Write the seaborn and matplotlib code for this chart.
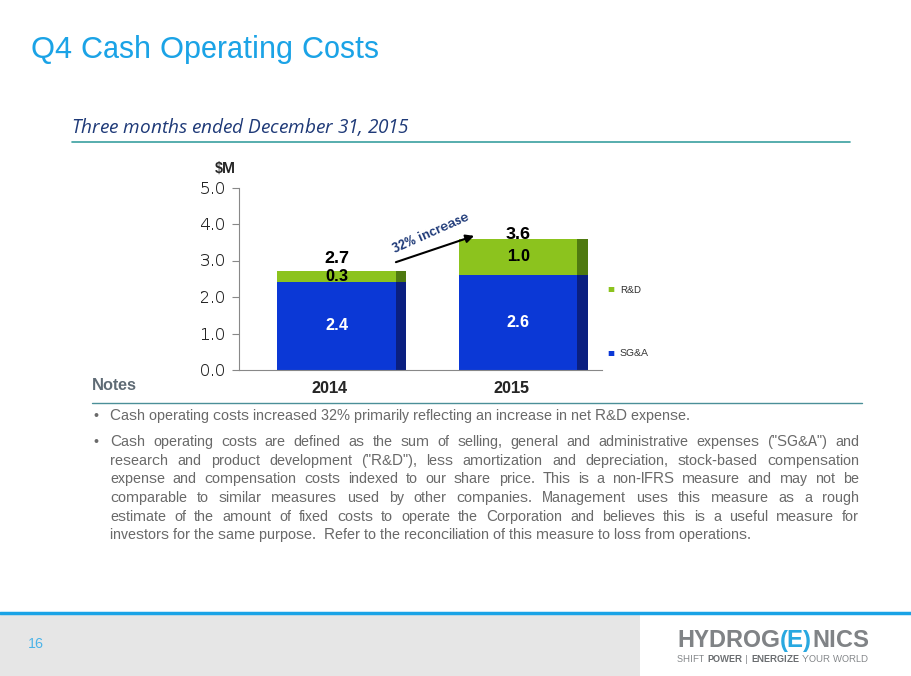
import matplotlib
matplotlib.use('Agg')
import matplotlib.pyplot as plt
import seaborn as sns
import pandas as pd

# chart data
years = ['2014', '2015']
sga = [2.4, 2.6]
rnd = [0.3, 1.0]
totals = [2.7, 3.6]
total_label_dy = [0.36, 0.1]

yticks = [0.0, 1.0, 2.0, 3.0, 4.0, 5.0]

note1 = "Cash operating costs increased 32% primarily reflecting an increase in net R&D expense."
note2_lines = [
    'Cash operating costs are defined as the sum of selling, general and administrative expenses ("SG&A") and',
    'research and product development ("R&D"), less amortization and depreciation, stock-based compensation',
    'expense and compensation costs indexed to our share price. This is a non-IFRS measure and may not be',
    'comparable to similar measures used by other companies. Management uses this measure as a rough',
    'estimate of the amount of fixed costs to operate the Corporation and believes this is a useful measure for',
    'investors for the same purpose.  Refer to the reconciliation of this measure to loss from operations.',
]

BLUE = '#0b38d6'
BLUE_SIDE = '#0a1f80'
GREEN = '#8cc31e'
GREEN_SIDE = '#4f7a10'
NAVY = '#1f3a78'
GRAY = '#6a6a6a'

sns.set_style('white')
plt.rcParams['font.family'] = ['Liberation Sans', 'DejaVu Sans']
plt.rcParams['text.hinting'] = 'native'
plt.rcParams['text.hinting_factor'] = 1

W, H = 911, 676
fig = plt.figure(figsize=(W / 100, H / 100), dpi=100)


def px(x, y):
    return x / W, 1 - y / H


# ---- header
fig.text(*px(31, 50), 'Q4 Cash Operating Costs', color='#1ba3e6', fontsize=22.2,
         ha='left', va='center')
fig.text(*px(72, 128), 'Three months ended December 31, 2015', color=NAVY, fontsize=13.35,
         style='italic', family=['Open Sans', 'DejaVu Sans'], ha='left', va='center')
fig.add_artist(plt.Line2D([72 / W, 850 / W], [1 - 142 / H] * 2, color='#3a9fa0', lw=1.2))

# ---- chart
ax = fig.add_axes([239 / W, 1 - 370 / H, 363 / W, 182.5 / H])
df = pd.DataFrame({'year': years, 'sga': sga, 'rnd': rnd, 'total': totals})
sns.barplot(data=df, x='year', y='total', color=GREEN, saturation=1, width=0.71, ax=ax)
sns.barplot(data=df, x='year', y='sga', color=BLUE, saturation=1, width=0.71, ax=ax)

side = 0.058
bars = list(ax.patches)
for p in bars:
    p.set_x(p.get_x() + 0.067)
    p.set_linewidth(0)
for p in bars:
    col = GREEN_SIDE if p.get_facecolor()[1] > 0.5 else BLUE_SIDE
    ax.bar(p.get_x() + p.get_width() - side, p.get_height(), width=side, bottom=p.get_y(),
           align='edge', color=col, linewidth=0)

green_bars = bars[:len(years)]
for i, p in enumerate(green_bars):
    cx = p.get_x() + (p.get_width() - side) / 2
    ax.text(cx, sga[i] / 2, f'{sga[i]:.1f}', color='white', fontsize=12.5,
            fontweight='bold', ha='center', va='center')
    ax.text(cx, sga[i] + rnd[i] / 2, f'{rnd[i]:.1f}', color='black', fontsize=12.5,
            fontweight='bold', ha='center', va='center')
    ax.text(cx, totals[i] + total_label_dy[i], f'{totals[i]:.1f}', color='black',
            fontsize=13, fontweight='bold', ha='center', va='center')

ax.set_xlim(-0.5, 1.5)
ax.set_ylim(0, 5)
ax.set_yticks(yticks)
ax.set_yticklabels([f'{v:.1f}' for v in yticks], fontsize=11.5, family=['DejaVu Sans'])
ax.set_xticks([0, 1])
ax.set_xticklabels(years, fontsize=12, fontweight='bold')
ax.set_xticks([-0.5, 0.5, 1.5], minor=True)
ax.tick_params(axis='x', which='major', length=0, pad=8)
ax.tick_params(axis='x', which='minor', length=5, color='#888888', direction='out')
ax.tick_params(axis='y', length=5, color='#888888', direction='out', left=True, pad=5)
ax.set_xlabel('')
ax.set_ylabel('')
for s in ['top', 'right']:
    ax.spines[s].set_visible(False)
for s in ['left', 'bottom']:
    ax.spines[s].set_color('#888888')
    ax.spines[s].set_linewidth(0.8)
ax.text(-0.039, 1.096, '$M', transform=ax.transAxes, fontsize=10.5, fontweight='bold',
        ha='center', va='center')

# growth arrow
ax.annotate('', xy=(0.81, 3.70), xytext=(0.35, 2.93),
            arrowprops=dict(arrowstyle='-|>', color='black', lw=1.5, mutation_scale=12))
ax.text(0.56, 3.74, '32% increase', rotation=24, color=NAVY, fontsize=9.5,
        fontweight='bold', ha='center', va='center')

# legend
fig.text(*px(611, 290), '\u25a0', color=GREEN, fontsize=8, ha='center', va='center')
fig.text(*px(620, 290), 'R&D', color='#333333', fontsize=7.5, ha='left', va='center')
fig.text(*px(611, 354), '\u25a0', color=BLUE, fontsize=8, ha='center', va='center')
fig.text(*px(620, 354), 'SG&A', color='#333333', fontsize=7.5, ha='left', va='center')

# ---- notes
fig.text(*px(92, 385), 'Notes', color='#5f6b75', fontsize=11.5, fontweight='bold',
         ha='left', va='center')
fig.add_artist(plt.Line2D([92 / W, 862 / W], [1 - 403 / H] * 2, color='#4b8f98', lw=1.0))

renderer = fig.canvas.get_renderer()


def justify(line, x0, x1, y, **kw):
    # one text per word, spread so the line fills x0..x1
    words = line.split()
    texts = [fig.text(0, 0, w, ha='left', va='baseline', **kw) for w in words]
    widths = [t.get_window_extent(renderer).width for t in texts]
    gap = (x1 - x0 - sum(widths)) / (len(words) - 1)
    x = x0
    for t, w in zip(texts, widths):
        t.set_position(px(x, y))
        x += w + gap


note_kw = dict(color=GRAY, fontsize=11.0)
base = 4  # centre -> baseline
fig.text(*px(96, 416 + base), '\u2022', ha='center', va='baseline', **note_kw)
fig.text(*px(110, 416 + base), note1, ha='left', va='baseline', **note_kw)
fig.text(*px(96, 442 + base), '\u2022', ha='center', va='baseline', **note_kw)
line_y = [442, 461, 479, 498, 517, 535]
for i, (line, y) in enumerate(zip(note2_lines, line_y)):
    if i < len(note2_lines) - 1:
        justify(line, 110, 859, y + base, **note_kw)
    else:
        fig.text(*px(110, y + base), line, ha='left', va='baseline', **note_kw)

# ---- footer
fig.add_artist(plt.Rectangle((0, 0), 640 / W, 61 / H, color='#e6e6e6', lw=0))
fig.add_artist(plt.Line2D([0, 1], [1 - 613 / H] * 2, color='#1aa3e6', lw=2.5))
fig.text(*px(28, 645), '16', color='#4ab3e8', fontsize=10, ha='left', va='center')


def runs(parts, x, y, **kw):
    for txt, col, wt in parts:
        t = fig.text(*px(x, y), txt, color=col, fontweight=wt, ha='left', va='center', **kw)
        x += t.get_window_extent(renderer).width


runs([('HYDROG', '#808386', 'bold'), ('(E)', '#29a8e0', 'bold'), ('NICS', '#808386', 'bold')],
     677, 641, fontsize=17, family=['Liberation Sans Narrow', 'Liberation Sans'])
runs([('SHIFT ', '#808386', 'normal'), ('POWER', '#6a6d70', 'bold'), (' | ', '#808386', 'normal'),
      ('ENERGIZE', '#6a6d70', 'bold'), (' YOUR WORLD', '#808386', 'normal')],
     677, 660, fontsize=6.7)

fig.savefig('out.png', dpi=100)
plt.close(fig)
